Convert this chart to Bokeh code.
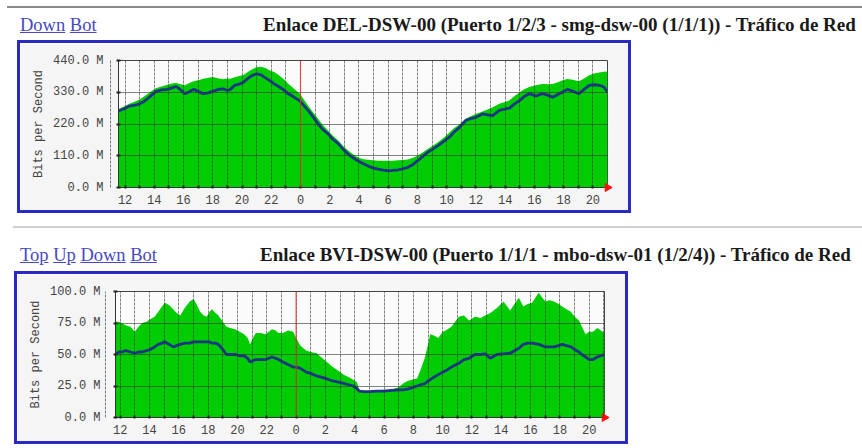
import math
from bokeh.plotting import figure
from bokeh.layouts import column
from bokeh.models import Div, FixedTicker, Span, Range1d
from bokeh.embed import file_html
from bokeh.resources import INLINE

# ---------------- data (hours; values in Mbit/s) ----------------
hours_1 = [11.55, 11.9, 12.3, 12.7, 13.0, 13.3, 13.7, 14.1, 14.5, 14.9, 15.2, 15.5, 15.8, 16.1,
           16.4, 16.7, 17.0, 17.35, 17.7, 18.0, 18.4, 18.7, 19.0, 19.2, 19.5, 19.8, 20.1, 20.4,
           20.7, 21.0, 21.3, 21.6, 21.9, 22.2, 22.5, 22.8, 23.15, 23.5, 23.95, 24.3, 24.6, 24.9,
           25.2, 25.5, 25.9, 26.2, 26.6, 26.9, 27.25, 27.6, 27.95, 28.3, 28.6, 28.95, 29.3, 29.65,
           30.0, 30.3, 30.7, 31.0, 31.35, 31.7, 32.0, 32.35, 32.7, 33.05, 33.4, 33.8, 34.2, 34.5,
           34.9, 35.3, 35.6, 36.0, 36.45, 36.8, 37.15, 37.6, 38.0, 38.3, 38.6, 39.0, 39.3, 39.65,
           40.1, 40.55, 40.9, 41.25, 41.6, 41.9, 42.25, 42.6, 43.05, 43.4, 43.75, 44.1, 44.45,
           44.75, 45.0]
in_1 = [272, 280, 290, 298, 305, 315, 330, 344, 350, 356, 360, 362, 358, 354,
        362, 368, 372, 377, 380, 383, 378, 375, 378, 377, 382, 386, 390, 400,
        410, 417, 418, 414, 405, 400, 390, 378, 360, 345, 325, 300, 278, 258,
        238, 218, 197, 180, 162, 145, 128, 115, 104, 98, 96, 94, 93, 93,
        93, 93, 94, 95, 97, 103, 110, 121, 133, 145, 157, 172, 191, 205,
        220, 238, 246, 255, 263, 270, 278, 290, 296, 302, 315, 330, 340, 348,
        354, 359, 358, 359, 365, 371, 376, 373, 368, 378, 389, 395, 398,
        401, 402]
out_1 = [265, 272, 282, 285, 290, 298, 315, 332, 338, 340, 345, 350, 338, 325,
         332, 340, 333, 325, 328, 333, 340, 342, 336, 340, 354, 358, 365, 378,
         388, 394, 390, 380, 370, 359, 350, 340, 325, 315, 300, 280, 262, 242,
         220, 202, 185, 168, 151, 133, 116, 103, 92, 82, 75, 68, 64, 60,
         58, 59, 61, 65, 70, 80, 92, 107, 122, 133, 145, 160, 175, 192,
         209, 232, 238, 243, 255, 252, 249, 267, 272, 275, 288, 302, 315, 325,
         317, 325, 320, 313, 322, 330, 340, 334, 325, 340, 354, 356, 354,
         348, 330]

hours_2 = [11.68, 11.9, 12.1, 12.4, 12.7, 13.0, 13.25, 13.5, 13.8, 14.05, 14.35, 14.6, 14.85,
           15.05, 15.35, 15.62, 15.85, 16.1, 16.4, 16.75, 17.0, 17.2, 17.45, 17.7, 17.9, 18.1,
           18.25, 18.5, 18.7, 19.0, 19.25, 19.5, 19.85, 20.15, 20.45, 20.7, 20.86, 21.05, 21.25,
           21.6, 21.9, 22.15, 22.35, 22.6, 22.8, 23.1, 23.45, 23.8, 24.0, 24.3, 24.7, 25.0, 25.4,
           25.7, 26.0, 26.5, 26.9, 27.25, 27.6, 27.9, 28.15, 28.3, 28.6, 29.0, 29.5, 30.0, 30.5,
           31.0, 31.3, 31.6, 31.9, 32.25, 32.5, 32.8, 33.0, 33.15, 33.4, 33.7, 34.0, 34.2, 34.6,
           35.1, 35.45, 35.8, 36.2, 36.6, 36.9, 37.25, 37.7, 38.15, 38.6, 38.9, 39.2, 39.5, 39.8,
           40.1, 40.55, 40.8, 41.0, 41.3, 41.6, 41.9, 42.15, 42.45, 42.75, 43.0, 43.3, 43.5,
           43.75, 44.0, 44.25, 44.55, 44.8, 45.04]
in_2 = [76, 76, 75, 73, 72, 68, 72, 75, 76, 78, 80, 84, 88,
        91, 89, 86, 83, 81, 87, 92, 94, 90, 84, 81, 80, 84,
        86, 83, 81, 76, 72, 71, 70, 68, 66, 63, 58, 63, 67,
        67, 66, 68, 70, 69, 67, 67, 69, 68, 63, 57, 53, 52, 51,
        48, 45, 40, 37, 34, 32, 30, 28, 22, 21, 21, 21.5, 22, 22,
        24, 27, 29, 30, 31, 38, 48, 58, 66, 65, 63, 68, 69, 72,
        80, 81, 77, 80, 79, 81, 83, 87, 92, 85, 90, 95, 88, 90,
        91, 99, 95, 92, 93, 92, 90, 88, 86, 84, 80, 77, 72,
        66, 68, 68, 71, 69, 67]
out_2 = [50, 52, 52, 53, 52, 51, 52, 52, 53, 54, 56, 58, 59,
         60, 58, 56, 57, 58, 59, 59, 60, 60, 60, 60, 60, 60,
         59, 59, 58, 54, 50, 50, 50, 49, 49, 47, 44, 45, 46,
         46, 46, 47, 48, 47, 46, 44, 42, 40, 40, 39, 36, 35, 33,
         32, 31, 29, 28, 27, 26, 25, 23, 21, 20.5, 20.5, 21, 21, 21.5,
         22, 22, 22.5, 23.5, 25, 26, 27, 29, 30, 32, 34, 36, 37, 40,
         43, 46, 47, 50, 50, 50.5, 47, 50, 50.5, 51, 53, 55, 58, 59,
         59, 58, 57, 56, 56, 56, 57, 58, 57, 56, 54, 52, 50,
         48, 46, 46, 48, 49, 50]

x_tick_hours = [12, 14, 16, 18, 20, 22, 24, 26, 28, 30, 32, 34, 36, 38, 40, 42, 44]
x_tick_labels = ["12", "14", "16", "18", "20", "22", "0", "2", "4", "6", "8",
                 "10", "12", "14", "16", "18", "20"]
x_minor_hours = [11, 13, 15, 17, 19, 21, 23, 25, 27, 29, 31, 33, 35, 37, 39, 41, 43, 45]
midnight = 24

y_ticks_1 = [0, 110, 220, 330, 440]
y_labels_1 = ["0.0 M", "110.0 M", "220.0 M", "330.0 M", "440.0 M"]
y_ticks_2 = [0, 25, 50, 75, 100]
y_labels_2 = ["0.0 M", "25.0 M", "50.0 M", "75.0 M", "100.0 M"]

title_1 = "Enlace DEL-DSW-00 (Puerto 1/2/3 - smg-dsw-00 (1/1/1)) - Tráfico de Red"
title_2 = "Enlace BVI-DSW-00 (Puerto 1/1/1 - mbo-dsw-01 (1/2/4)) - Tráfico de Red"
links_1 = ["Down", "Bot"]
links_2 = ["Top", "Up", "Down", "Bot"]
y_axis_title = "Bits per Second"

MONO = "Liberation Mono"
SERIF = "Liberation Serif"
GREEN = "#00cc00"
BLUE_LINE = "#1c3584"
BOX_BLUE = "#2a2ac2"
BW = 3  # blue frame thickness


def make_chart(hours, vin, vout, yticks, ylabels, x0, x1, w, h, bl, br, bt, bb, margin_left):
    # The host gets a CSS border; Bokeh sizes its canvas to the border box and
    # places it inside the border, so the right/bottom borders are offset by 2*BW.
    p = figure(width=w - 2 * BW, height=h - 2 * BW, output_backend="svg", toolbar_location=None,
               x_range=Range1d(x0, x1), y_range=Range1d(yticks[0], yticks[-1]),
               min_border_left=bl - BW, min_border_right=br + BW,
               min_border_top=bt - BW, min_border_bottom=bb + BW,
               margin=(0, 0, 0, margin_left),
               styles={"border": "%dpx solid %s" % (BW, BOX_BLUE),
                       "box-sizing": "content-box"})
    p.border_fill_color = "#f5f5f5"
    p.background_fill_color = "#fbfbfb"
    p.outline_line_color = "#444444"
    p.outline_line_width = 1

    p.varea(x=hours, y1=[0] * len(hours), y2=vin, fill_color=GREEN)
    p.line(x=hours, y=vout, line_color=BLUE_LINE, line_width=2.8)

    xt = FixedTicker(ticks=x_tick_hours, minor_ticks=x_minor_hours)
    p.xaxis.ticker = xt
    p.xaxis.major_label_overrides = {t: l for t, l in zip(x_tick_hours, x_tick_labels)}
    p.xaxis.major_label_text_font = MONO
    p.xaxis.major_label_text_font_size = "12px"
    p.xaxis.major_label_text_color = "#444444"
    p.xaxis.major_label_standoff = 6
    p.xaxis.major_tick_in = 2
    p.xaxis.major_tick_out = 1
    p.xaxis.minor_tick_in = 2
    p.xaxis.minor_tick_out = 1
    p.xaxis.major_tick_line_color = "#222222"
    p.xaxis.minor_tick_line_color = "#222222"
    p.xaxis.major_tick_line_width = 2
    p.xaxis.minor_tick_line_width = 2
    p.xaxis.axis_line_color = "#333333"

    p.yaxis.ticker = FixedTicker(ticks=yticks, minor_ticks=[])
    p.yaxis.major_label_overrides = {t: l for t, l in zip(yticks, ylabels)}
    p.yaxis.major_label_text_font = MONO
    p.yaxis.major_label_text_font_size = "12px"
    p.yaxis.major_label_text_color = "#444444"
    p.yaxis.major_label_standoff = 13
    p.yaxis.major_tick_in = 2
    p.yaxis.major_tick_out = 2
    p.yaxis.major_tick_line_color = "#222222"
    p.yaxis.major_tick_line_width = 2
    p.yaxis.axis_line_color = "#333333"
    p.yaxis.axis_label = y_axis_title
    p.yaxis.axis_label_text_font = MONO
    p.yaxis.axis_label_text_font_size = "12px"
    p.yaxis.axis_label_text_font_style = "normal"
    p.yaxis.axis_label_text_color = "#444444"
    p.yaxis.axis_label_standoff = 4

    p.xgrid.ticker = xt
    p.xgrid.level = "overlay"
    p.xgrid.grid_line_color = "#333333"
    p.xgrid.grid_line_alpha = 0.6
    p.xgrid.grid_line_dash = "3 1"
    p.xgrid.minor_grid_line_color = "#333333"
    p.xgrid.minor_grid_line_alpha = 0.6
    p.xgrid.minor_grid_line_dash = "3 1"
    p.ygrid.ticker = FixedTicker(ticks=yticks, minor_ticks=[])
    p.ygrid.level = "overlay"
    p.ygrid.grid_line_color = "#333333"
    p.ygrid.grid_line_alpha = 0.6

    p.add_layout(Span(location=midnight, dimension="height", line_color="#ee3030",
                      line_width=1.2, line_alpha=0.8, level="overlay"))
    p.scatter(x=[hours[-1]], y=[0], marker="triangle", angle=-math.pi / 2, size=8,
              fill_color="#ff1010", line_color="#ff1010", level="overlay")
    return p


def header(links, title, height, line_top, line_left, line_h, line_color,
           link_top, title_left, title_top):
    link_html = " ".join('<u>%s</u>' % l for l in links)
    return Div(text=(
        '<div style="position:relative;width:862px;height:%dpx;font-family:\'%s\';">'
        '<div style="position:absolute;left:%dpx;top:%dpx;width:%dpx;height:%dpx;background:%s"></div>'
        '<span style="position:absolute;left:20px;top:%dpx;font-size:18.5px;line-height:18.5px;'
        'color:#4848c4;white-space:nowrap">%s</span>'
        '<span style="position:absolute;left:%dpx;top:%dpx;font-size:19px;line-height:19px;'
        'font-weight:bold;color:#1a1a1a;white-space:nowrap">%s</span>'
        '</div>') % (height, SERIF, line_left, line_top, 862 - line_left, line_h, line_color,
                     link_top, link_html, title_left, title_top, title),
        width=862, height=height, margin=(0, 0, 0, 0))


head1 = header(links_1, title_1, 40, 6, 7, 2, "#8a8a8a", 16, 263, 15)
chart1 = make_chart(hours_1, in_1, out_1, y_ticks_1, y_labels_1, 11.55, 45.0,
                    614, 173, 101, 23, 20, 26, 17)
head2 = header(links_2, title_2, 58, 13, 13, 2, "#cfcfcf", 33, 260, 32)
chart2 = make_chart(hours_2, in_2, out_2, y_ticks_2, y_labels_2, 11.68, 45.04,
                    614, 173, 101, 24, 20, 27, 14)

page = column(head1, chart1, head2, chart2, spacing=0, margin=(0, 0, 0, 0))
open("out.html", "w").write(file_html(page, INLINE))
